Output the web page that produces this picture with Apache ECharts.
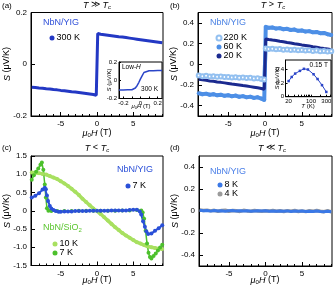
<!DOCTYPE html>
<html><head><meta charset="utf-8">
<script src="https://cdn.jsdelivr.net/npm/echarts@6/dist/echarts.min.js"></script>
<style>html,body{margin:0;padding:0;background:#fff}#c{width:335px;height:291px}</style>
</head><body><div id="c"></div>
<script>
// ---------- data ----------
const hMain = [-9,-8.5,-8,-7.5,-7,-6.5,-6,-5.5,-5,-4.5,-4,-3.5,-3,-2.5,-2,-1.5,-1,-0.5,-0.1,0.1,0.5,1,1.5,2,2.5,3,3.5,4,4.5,5,5.5,6,6.5,7,7.5,8,8.5,9];
const s300 = [-0.089,-0.090,-0.092,-0.093,-0.095,-0.096,-0.098,-0.099,-0.101,-0.102,-0.104,-0.106,-0.107,-0.109,-0.111,-0.113,-0.115,-0.117,-0.120,0.119,0.116,0.114,0.112,0.110,0.108,0.106,0.105,0.103,0.101,0.099,0.097,0.095,0.093,0.091,0.089,0.087,0.085,0.083];
const s220 = [-0.108,-0.115,-0.112,-0.118,-0.116,-0.121,-0.119,-0.124,-0.122,-0.127,-0.125,-0.130,-0.128,-0.134,-0.131,-0.138,-0.136,-0.142,-0.148,0.152,0.148,0.150,0.144,0.147,0.141,0.143,0.138,0.141,0.135,0.138,0.132,0.135,0.129,0.132,0.126,0.129,0.123,0.125];
const s60 = [-0.280,-0.290,-0.284,-0.295,-0.289,-0.300,-0.294,-0.305,-0.299,-0.310,-0.303,-0.314,-0.308,-0.320,-0.313,-0.325,-0.319,-0.332,-0.345,0.362,0.352,0.356,0.345,0.349,0.338,0.342,0.331,0.335,0.323,0.327,0.316,0.320,0.308,0.312,0.300,0.303,0.290,0.282];
const s20 = [-0.145,-0.151,-0.155,-0.161,-0.165,-0.171,-0.175,-0.180,-0.185,-0.191,-0.195,-0.200,-0.206,-0.210,-0.216,-0.222,-0.228,-0.234,-0.242,0.245,0.240,0.234,0.229,0.222,0.217,0.210,0.205,0.199,0.194,0.187,0.182,0.176,0.170,0.165,0.158,0.152,0.147,0.140];

const hLow = [-0.25,-0.2,-0.15,-0.1,-0.08,-0.06,-0.04,-0.02,0,0.02,0.04,0.06,0.1,0.15,0.2,0.25];
const sLow = [-0.106,-0.106,-0.105,-0.104,-0.100,-0.085,-0.060,-0.025,0.015,0.050,0.085,0.100,0.104,0.105,0.106,0.106];

const tInset = [20,25,32,45,60,80,120,160,220,300];
const sInset = [0.23,0.29,0.34,0.38,0.41,0.40,0.33,0.26,0.17,0.07];

const hHalf = [-9,-8.5,-8,-7.5,-7,-6.5,-6,-5.5,-5,-4.5,-4,-3.5,-3,-2.5,-2,-1.5,-1,-0.5,0,0.5,1,1.5,2,2.5,3,3.5,4,4.5,5,5.5,6,6.5,7,7.5,8,8.5,9];
const sSi10 = [1.05,1.04,1.03,1.01,0.99,0.95,0.91,0.87,0.81,0.75,0.68,0.60,0.52,0.43,0.33,0.24,0.15,0.06,-0.01,-0.09,-0.18,-0.27,-0.36,-0.45,-0.53,-0.61,-0.68,-0.74,-0.80,-0.86,-0.90,-0.94,-0.98,-1.00,-1.02,-1.04,-1.05];
const hSi7 = [-9,-8.7,-8.4,-8.1,-7.8,-7.6,-7.4,-7.2,-7.05,-6.9,-6.7,-6.3,-5.5,-4.5,-3.5,-2.5,-1.5,-0.5,0.5,1.5,2.5,3.5,4.5,5.5,6.1,6.3,6.5,6.7,6.9,7.1,7.3,7.5,7.8,8.1,8.4,8.7,9];
const sSi7 = [0.85,0.97,1.07,1.16,1.26,1.32,1.12,0.72,0.36,0.07,0.0,-0.01,-0.01,-0.01,-0.01,0,0,0,0,0,0,0.01,0.01,0.02,0.01,-0.05,-0.22,-0.55,-0.90,-1.15,-1.27,-1.31,-1.24,-1.17,-1.09,-1.01,-0.93];
const hYig = [-9,-8.5,-8,-7.5,-7.2,-7.05,-6.9,-6.75,-6.5,-6.3,-6,-5.7,-5.3,-5,-4.5,-4,-3.5,-3,-2.5,-2,-1.5,-1,-0.5,0,0.5,1,1.5,2,2.5,3,3.5,4,4.5,5,5.5,5.9,6.1,6.35,6.6,6.8,7.05,7.5,8,8.5,9];
const sYig = [0.36,0.41,0.48,0.58,0.63,0.59,0.42,0.27,0.13,0.06,0.02,-0.01,-0.03,-0.03,-0.02,-0.02,-0.02,-0.01,-0.01,-0.01,-0.01,0,0,0,0,0,0,0.005,0.005,0.01,0.01,0.01,0.02,0.03,0.03,-0.02,-0.10,-0.29,-0.44,-0.56,-0.64,-0.62,-0.55,-0.48,-0.40];

const s8K = [0.006,0.002,0.005,-0.001,0.004,0.001,0.003,-0.002,0.002,0.004,-0.001,0.002,0.000,0.003,-0.002,0.001,0.002,-0.001,0.002,-0.002,0.001,-0.003,0.000,-0.002,0.001,-0.004,-0.001,-0.003,0.000,-0.004,-0.002,-0.005,-0.001,-0.004,-0.006,-0.003,-0.007];
const s4K = [0.010,0.004,0.008,0.001,0.006,-0.003,0.004,0.007,-0.002,0.005,0.002,-0.004,0.006,0.001,-0.003,0.004,0.000,-0.002,0.003,-0.001,0.004,-0.003,0.002,-0.005,0.003,-0.002,0.004,-0.004,0.001,-0.006,0.002,-0.003,0.005,-0.002,-0.006,0.003,-0.008];

const xMajor = [-5,0,5];
const xMinor = [-9,-8,-7,-6,-5,-4,-3,-2,-1,0,1,2,3,4,5,6,7,8,9];
const yTicksBD = [-0.4,-0.2,0,0.2,0.4];
const lowTicks = [-0.2,-0.1,0,0.1,0.2];
const lowLabels = [-0.2,0,0.2];
const tLabels = [20,100,300];
const tTicks = [20,30,40,50,60,70,80,90,100,200,300,400];

// ---------- helpers ----------
const FONT = '"Liberation Sans", Arial, Helvetica, sans-serif';
const zip = (a,b) => a.map((v,i)=>[v,b[i]]);
const fmt1 = v => (Math.abs(v) < 1e-9 ? '0' : (+v).toFixed(1));

function xMain(g){
  return [
    {gridIndex:g, type:'value', min:-9.1, max:9.1, position:'bottom',
     axisLine:{onZero:false, lineStyle:{color:'#000', width:1}},
     axisTick:{inside:true, length:4, customValues:xMajor, lineStyle:{color:'#000'}},
     axisLabel:{customValues:xMajor, color:'#000', fontSize:8, margin:4, fontFamily:FONT},
     splitLine:{show:false}},
    {gridIndex:g, type:'value', min:-9.1, max:9.1, position:'bottom',
     axisLine:{show:false, onZero:false},
     axisTick:{inside:true, length:2, customValues:xMinor, lineStyle:{color:'#000'}},
     axisLabel:{show:false}, splitLine:{show:false}}
  ];
}
function yMain(g, min, max, opt){
  const ax = {gridIndex:g, type:'value', min, max,
    axisLine:{onZero:false, lineStyle:{color:'#000', width:1}},
    axisTick:{inside:true, length:4, lineStyle:{color:'#000'}},
    axisLabel:{color:'#000', fontSize:8, margin:4, fontFamily:FONT, formatter: fmt1},
    splitLine:{show:false}};
  if (opt.interval) ax.interval = opt.interval;
  if (opt.custom) { ax.axisTick.customValues = opt.custom; ax.axisLabel.customValues = opt.custom; }
  return ax;
}

function txt(x, y, text, o){
  o = o || {};
  const size = o.size || 9;
  const color = o.color || '#000';
  const rich = {
    i:{fontStyle:'italic', fontSize:size, fontFamily:FONT, fill:color},
    s:{fontSize:Math.round(size*0.7), fontFamily:FONT, fill:color, padding:[Math.round(size*0.5),0,0,0]},
    si:{fontStyle:'italic', fontSize:Math.round(size*0.7), fontFamily:FONT, fill:color, padding:[Math.round(size*0.5),0,0,0]}
  };
  return {type:'text', x, y, rotation:o.rot||0, z:100, silent:true,
    style:{text, fill:color, fontSize:size, fontFamily:FONT, fontStyle:o.italic?'italic':'normal',
      textAlign:o.align||'center', textVerticalAlign:'middle', align:o.align||'center', verticalAlign:'middle', rich}};
}

// ---------- colors ----------
const C300 = '#2338c4', C220 = '#93c0f0', C60 = '#4d8fe6', C20 = '#1b2a8f';
const CYIG = '#2a50d8', CSI10 = '#a8e060', CSI7 = '#4cc02c', C8 = '#3a78e6', C4 = '#9b9b9b', CIN = '#2b45c8';

const chart = echarts.init(document.getElementById('c'), null, {renderer:'canvas'});

const gridBase = {show:true, borderColor:'#000', borderWidth:1, containLabel:false};
const legendBase = {orient:'vertical', icon:'circle', itemWidth:5, itemHeight:5, itemGap:0, selectedMode:false,
  formatter: n => n.replace(/^(YIG|SiO2) /,''),
  textStyle:{fontSize:9, fontFamily:FONT, color:'#000', lineHeight:9, padding:[0,0,0,-3]}};
const option = {
  animation:false,
  backgroundColor:'#fff',
  grid:[
    Object.assign({left:31, top:12.5, width:132, height:103.5}, gridBase),
    Object.assign({left:198, top:12.5, width:134, height:103.5}, gridBase),
    Object.assign({left:31, top:156, width:132, height:109.5}, gridBase),
    Object.assign({left:199, top:156, width:133, height:110}, gridBase),
    Object.assign({left:119, top:62, width:43, height:36.5, backgroundColor:'#fff'}, gridBase),
    Object.assign({left:285.5, top:60, width:45.5, height:36.7, backgroundColor:'#fff'}, gridBase)
  ],
  xAxis:[
    ...xMain(0), ...xMain(1), ...xMain(2), ...xMain(3),
    {gridIndex:4, type:'value', min:-0.25, max:0.25,
     axisLine:{onZero:false, lineStyle:{color:'#000'}},
     axisTick:{inside:true, length:2, customValues:lowTicks, lineStyle:{color:'#000'}},
     axisLabel:{customValues:lowLabels, color:'#000', fontSize:6, margin:2, fontFamily:FONT, formatter: fmt1},
     splitLine:{show:false}},
    {gridIndex:5, type:'value', min:Math.log10(16), max:Math.log10(420),
     axisLine:{onZero:false, lineStyle:{color:'#000'}},
     axisTick:{inside:true, length:2, customValues:tTicks.map(Math.log10), lineStyle:{color:'#000'}},
     axisLabel:{customValues:tLabels.map(Math.log10), color:'#000', fontSize:6, margin:2, fontFamily:FONT,
       formatter: v => String(Math.round(Math.pow(10, v)))},
     splitLine:{show:false}}
  ],
  yAxis:[
    yMain(0, -0.2, 0.2, {interval:0.2}),
    yMain(1, -0.5, 0.5, {custom:yTicksBD}),
    yMain(2, -1.5, 1.5, {interval:0.5}),
    yMain(3, -0.5, 0.5, {custom:yTicksBD}),
    {gridIndex:4, type:'value', min:-0.2, max:0.2, interval:0.2,
     axisLine:{onZero:false, lineStyle:{color:'#000'}},
     axisTick:{inside:true, length:2, lineStyle:{color:'#000'}},
     axisLabel:{color:'#000', fontSize:6, margin:2, fontFamily:FONT, formatter: fmt1},
     splitLine:{show:false}},
    {gridIndex:5, type:'value', min:0, max:0.54,
     axisLine:{onZero:false, lineStyle:{color:'#000'}},
     axisTick:{inside:true, length:2, customValues:[0,0.2,0.4], lineStyle:{color:'#000'}},
     axisLabel:{customValues:[0,0.2,0.4], color:'#000', fontSize:6, margin:1.5, fontFamily:FONT, formatter: fmt1},
     splitLine:{show:false}}
  ],
  legend:[
    Object.assign({data:['300 K'], left:44.5, top:28.5}, legendBase),
    Object.assign({data:[{name:'220 K', icon:'emptyCircle'},'60 K','20 K'], left:210.5, top:28.5}, legendBase),
    Object.assign({data:['YIG 7 K'], left:120.5, top:176.5}, legendBase),
    Object.assign({data:['SiO2 10 K','SiO2 7 K'], left:47.5, top:234.5}, legendBase),
    Object.assign({data:['8 K','4 K'], left:212.5, top:175.5}, legendBase)
  ],
  series:[
    // (a)
    {name:'300 K', type:'line', xAxisIndex:0, yAxisIndex:0, data:zip(hMain,s300), symbol:'circle', symbolSize:3, showSymbol:false,
     lineStyle:{color:C300, width:3}, itemStyle:{color:C300}},
    // (b)
    {name:'220 K', type:'line', xAxisIndex:2, yAxisIndex:1, data:zip(hMain,s220), symbol:'emptyCircle', symbolSize:4, showSymbol:true,
     lineStyle:{color:C220, width:4}, itemStyle:{color:C220, borderWidth:1}},
    {name:'60 K', type:'line', xAxisIndex:2, yAxisIndex:1, data:zip(hMain,s60), symbol:'circle', symbolSize:4, showSymbol:true,
     lineStyle:{color:C60, width:4}, itemStyle:{color:C60}},
    {name:'20 K', type:'line', xAxisIndex:2, yAxisIndex:1, data:zip(hMain,s20), symbol:'circle', symbolSize:3, showSymbol:false,
     lineStyle:{color:C20, width:3}, itemStyle:{color:C20}},
    // (c)
    {name:'SiO2 10 K', type:'line', xAxisIndex:4, yAxisIndex:2, data:zip(hHalf,sSi10), symbol:'circle', symbolSize:4, showSymbol:true,
     lineStyle:{color:CSI10, width:3.5}, itemStyle:{color:CSI10}},
    {name:'SiO2 7 K', type:'line', xAxisIndex:4, yAxisIndex:2, data:zip(hSi7,sSi7), symbol:'circle', symbolSize:4, showSymbol:true,
     lineStyle:{color:CSI7, width:1.5}, itemStyle:{color:CSI7}},
    {name:'YIG 7 K', type:'line', xAxisIndex:4, yAxisIndex:2, data:zip(hYig,sYig), symbol:'circle', symbolSize:4, showSymbol:true,
     lineStyle:{color:CYIG, width:2}, itemStyle:{color:CYIG}},
    // (d)
    {name:'4 K', type:'line', xAxisIndex:6, yAxisIndex:3, data:zip(hHalf,s4K), symbol:'circle', symbolSize:3, showSymbol:false,
     lineStyle:{color:C4, width:3.5}, itemStyle:{color:C4}},
    {name:'8 K', type:'line', xAxisIndex:6, yAxisIndex:3, data:zip(hHalf,s8K), symbol:'circle', symbolSize:3, showSymbol:false,
     lineStyle:{color:C8, width:3}, itemStyle:{color:C8}},
    // insets
    {name:'lowH', type:'line', xAxisIndex:8, yAxisIndex:4, data:zip(hLow,sLow), showSymbol:false,
     lineStyle:{color:CIN, width:1.5}, itemStyle:{color:CIN}, z:5},
    {name:'inset015', type:'line', xAxisIndex:9, yAxisIndex:5, data:tInset.map((t,i)=>[Math.log10(t), sInset[i]]),
     symbol:'rect', symbolSize:2.5, showSymbol:true, lineStyle:{color:CIN, width:1}, itemStyle:{color:CIN}, z:5}
  ],
  graphic:[
    txt(2, 6, '(a)', {size:8, align:'left'}),
    txt(97, 5, '{i|T} ≫ {i|T}{si|c}', {size:9}),
    txt(170, 6, '(b)', {size:8, align:'left'}),
    txt(273, 5, '{i|T} > {i|T}{si|c}', {size:9}),
    txt(2, 148, '(c)', {size:8, align:'left'}),
    txt(97, 148, '{i|T} < {i|T}{si|c}', {size:9}),
    txt(170, 148, '(d)', {size:8, align:'left'}),
    txt(272, 148, '{i|T} ≪ {i|T}{si|c}', {size:9}),
    txt(7, 64, '{i|S} (μV/K)', {size:9, rot:Math.PI/2}),
    txt(174, 64, '{i|S} (μV/K)', {size:9, rot:Math.PI/2}),
    txt(7, 211, '{i|S} (μV/K)', {size:9, rot:Math.PI/2}),
    txt(175, 211, '{i|S} (μV/K)', {size:9, rot:Math.PI/2}),
    txt(97, 133, '{i|μ}{s|0}{i|H} (T)', {size:9}),
    txt(265, 133, '{i|μ}{s|0}{i|H} (T)', {size:9}),
    txt(97, 280, '{i|μ}{s|0}{i|H} (T)', {size:9}),
    txt(265, 280, '{i|μ}{s|0}{i|H} (T)', {size:9}),
    txt(43, 23, 'NbN/YIG', {size:9, color:'#2f4fd8', align:'left'}),
    txt(210, 23, 'NbN/YIG', {size:9, color:'#4a82e4', align:'left'}),
    txt(117, 170, 'NbN/YIG', {size:9, color:'#2a4fd8', align:'left'}),
    txt(43, 228, 'NbN/SiO{s|2}', {size:9, color:'#5cc630', align:'left'}),
    txt(210, 172, 'NbN/YIG', {size:9, color:'#4a7fe8', align:'left'}),
    txt(122, 67, 'Low-{i|H}', {size:6.5, align:'left'}),
    txt(158, 89, '300 K', {size:6.5, align:'right'}),
    txt(109, 80, '{i|S} (μV/K)', {size:6, rot:Math.PI/2}),
    txt(141, 106, '{i|μ}{s|0}{i|H} (T)', {size:6}),
    txt(328, 65, '0.15 T', {size:6.5, align:'right'}),
    txt(277, 78, '{i|S} (μV/K)', {size:6, rot:Math.PI/2}),
    txt(308, 106, '{i|T} (K)', {size:6})
  ]
};
chart.setOption(option);
</script>
</body></html>
